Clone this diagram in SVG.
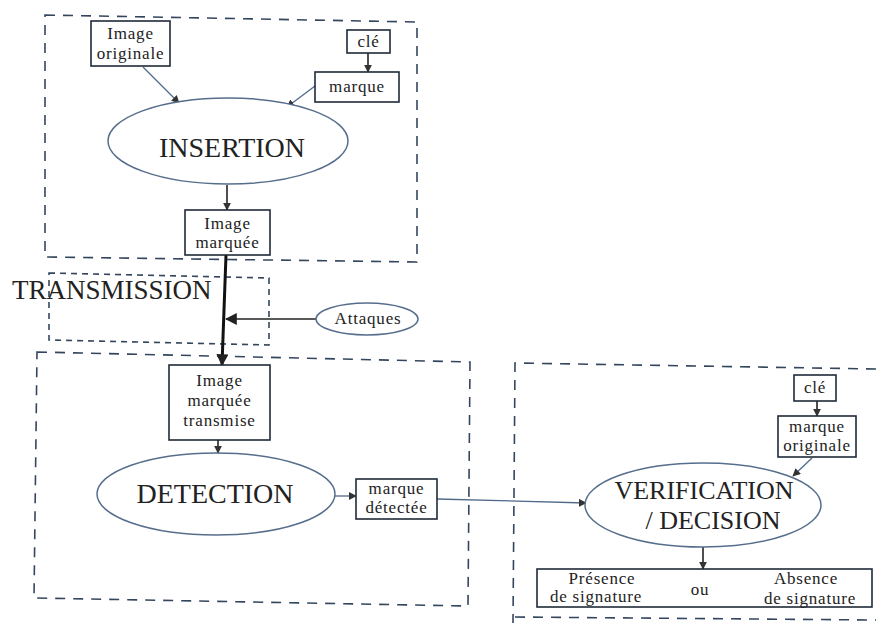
<svg xmlns="http://www.w3.org/2000/svg" width="876" height="623" viewBox="0 0 876 623">
<style>
.bg{fill:#fff}
.frame{fill:none;stroke:#34465e;stroke-width:1.6;stroke-dasharray:10 8}
.frame2{fill:none;stroke:#34465e;stroke-width:1.6;stroke-dasharray:6 5}
.box{fill:#fff;stroke:#1e2a38;stroke-width:1.6}
.ell{fill:#fff;stroke:#566e8c;stroke-width:1.5}
text{font-family:'Liberation Serif','DejaVu Serif','Times New Roman',serif;fill:#222;text-anchor:middle}
.s{font-size:17px;letter-spacing:0.8px}
.b{font-size:28px}
.thin{fill:none;stroke:#4f6a8a;stroke-width:1.3}
.dark{fill:none;stroke:#222;stroke-width:1.6}
.thick{fill:none;stroke:#111;stroke-width:3}
</style>
<defs>
<marker id="ah" viewBox="0 0 10 10" refX="9" refY="5" markerWidth="8" markerHeight="8" markerUnits="userSpaceOnUse" orient="auto">
<path d="M0,0 L10,5 L0,10 Z" fill="#333"/>
</marker>
<marker id="ahb" viewBox="0 0 10 10" refX="9" refY="5" markerWidth="12" markerHeight="12" markerUnits="userSpaceOnUse" orient="auto">
<path d="M0,0 L10,5 L0,10 Z" fill="#222"/>
</marker>
</defs>
<rect class="bg" x="0" y="0" width="876" height="623"/>

<g id="frames">
<path class="frame" d="M45,15 L417,22 L417,262 L45,257 Z"/>
<path class="frame2" d="M49,273 L269,278 L269,345 L49,340 Z"/>
<path class="frame" d="M37,352 L470,362 L468,606 L34,598 Z"/>
<path class="frame" d="M876,369 L515,363 L513,623"/>
<path class="frame" d="M515,617 L876,620"/>
</g>

<g id="connectors">
<line class="thin" x1="143" y1="67" x2="179" y2="103" marker-end="url(#ah)"/>
<line class="thin" x1="315" y1="86" x2="287" y2="107" marker-end="url(#ah)"/>
<line class="dark" x1="368" y1="53" x2="368" y2="72" marker-end="url(#ah)"/>
<line class="dark" x1="227" y1="185" x2="227" y2="210" marker-end="url(#ah)"/>
<line class="thick" x1="226" y1="255" x2="222" y2="365" marker-end="url(#ahb)"/>
<line class="dark" x1="316" y1="319" x2="226" y2="319" marker-end="url(#ahb)"/>
<line class="dark" x1="218" y1="440" x2="218" y2="453" marker-end="url(#ah)"/>
<line class="thin" x1="335" y1="496" x2="356" y2="496" marker-end="url(#ah)"/>
<line class="thin" x1="437" y1="499" x2="586" y2="503" marker-end="url(#ah)"/>
<line class="dark" x1="817" y1="401" x2="817" y2="416" marker-end="url(#ah)"/>
<line class="thin" x1="812" y1="458" x2="793" y2="476" marker-end="url(#ah)"/>
<line class="dark" x1="703" y1="547" x2="703" y2="569" marker-end="url(#ah)"/>
</g>

<g id="image-originale">
<rect class="box" x="91" y="21" width="79" height="45"/>
<text class="s" x="130.5" y="39">Image</text>
<text class="s" x="130.5" y="59">originale</text>
</g>
<g id="cle1">
<rect class="box" x="347" y="30" width="43" height="23"/>
<text class="s" x="368.5" y="47">clé</text>
</g>
<g id="marque">
<rect class="box" x="315" y="72" width="84" height="30"/>
<text class="s" x="357" y="92">marque</text>
</g>
<g id="insertion">
<ellipse class="ell" cx="228" cy="141" rx="120" ry="43"/>
<text class="b" x="232" y="157">INSERTION</text>
</g>
<g id="image-marquee">
<rect class="box" x="185" y="210" width="85" height="45"/>
<text class="s" x="227.5" y="229">Image</text>
<text class="s" x="227.5" y="248">marquée</text>
</g>
<g id="transmission">
<text style="font-size:27px;text-anchor:start" x="12" y="299">TRANSMISSION</text>
</g>
<g id="attaques">
<ellipse class="ell" cx="367" cy="319" rx="51" ry="16"/>
<text class="s" x="368" y="324">Attaques</text>
</g>
<g id="image-marquee-transmise">
<rect class="box" x="169" y="365" width="101" height="75"/>
<text class="s" x="219.5" y="386">Image</text>
<text class="s" x="219.5" y="406">marquée</text>
<text class="s" x="219.5" y="426">transmise</text>
</g>
<g id="detection">
<ellipse class="ell" cx="216" cy="494" rx="119" ry="41"/>
<text class="b" x="215" y="503">DETECTION</text>
</g>
<g id="marque-detectee">
<rect class="box" x="356" y="479" width="81" height="40"/>
<text class="s" x="396.5" y="494">marque</text>
<text class="s" x="396.5" y="513">détectée</text>
</g>
<g id="cle2">
<rect class="box" x="794" y="375" width="42" height="26"/>
<text class="s" x="815" y="393">clé</text>
</g>
<g id="marque-originale">
<rect class="box" x="778" y="416" width="78" height="41"/>
<text class="s" x="817" y="432">marque</text>
<text class="s" x="817" y="451">originale</text>
</g>
<g id="verification">
<ellipse class="ell" cx="703" cy="505" rx="118" ry="42"/>
<text style="font-size:26px" x="704" y="499">VERIFICATION</text>
<text style="font-size:26px" x="713" y="529">/ DECISION</text>
</g>
<g id="resultat">
<rect class="box" x="537" y="569" width="335" height="38"/>
<text class="s" x="602" y="584">Présence</text>
<text class="s" x="596" y="602">de signature</text>
<text class="s" x="700" y="595">ou</text>
<text class="s" x="806" y="584">Absence</text>
<text class="s" x="810" y="604">de signature</text>
</g>
</svg>
